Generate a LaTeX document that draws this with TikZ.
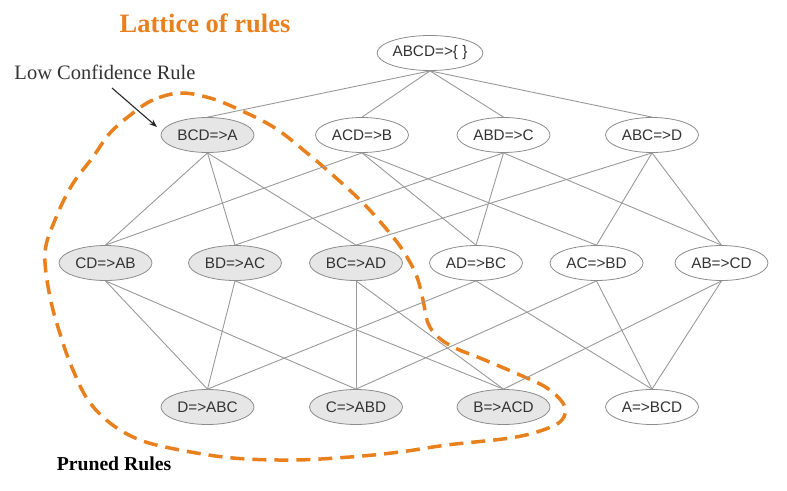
\documentclass[tikz,border=0pt]{standalone}
\usepackage{fontspec}
\setmainfont{Liberation Serif}
\newfontfamily\nodefont{Liberation Sans}
\usetikzlibrary{shapes.geometric,arrows.meta}
\definecolor{orangeline}{HTML}{E8801E}
\definecolor{edgegray}{HTML}{999999}
\definecolor{bordergray}{HTML}{8C8C8C}
\definecolor{fillgray}{HTML}{E6E6E6}
\definecolor{txt}{HTML}{333333}
\tikzset{
  rule/.style={ellipse, draw=bordergray, line width=0.8pt, fill=white, inner sep=0pt,
    minimum width=93pt, minimum height=35pt, text=txt,
    font=\nodefont\fontsize{15.3}{15.3}\selectfont},
  pruned/.style={rule, fill=fillgray},
  edge/.style={draw=edgegray, line width=0.9pt},
  prunecurve/.style={draw=orangeline, line width=3.5pt, dash pattern=on 14pt off 8pt},
}
\begin{document}
\begin{tikzpicture}[x=1pt,y=-1pt]
\useasboundingbox (0,0) rectangle (787,490);
% pruned region
\draw[prunecurve] plot[smooth cycle, tension=0.6] coordinates {
(180,93) (153,100) (133,113) (110,133) (93,157) (72,185) (55,220) (45,253)
(50,297) (62,340) (73,370) (88,400) (110,423) (140,440) (180,450) (233,458)
(293,460) (350,457) (400,452) (447,445) (510,438) (543,430) (562,420) (564,405)
(547,388) (520,375) (480,358) (455,348) (438,337) (428,323) (423,300) (417,277)
(407,257) (393,237) (365,205) (335,177) (307,153) (275,128) (240,110) (210,98)};
% nodes
\node[rule] (abcd) at (430,53) {ABCD=>\{ \}};
\node[pruned] (bcd) at (207.5,135) {BCD=>A};
\node[rule] (acd) at (362,135) {ACD=>B};
\node[rule] (abd) at (503.5,135) {ABD=>C};
\node[rule] (abc) at (652,135) {ABC=>D};
\node[pruned] (cd) at (105.5,263) {CD=>AB};
\node[pruned] (bd) at (235,263) {BD=>AC};
\node[pruned] (bc) at (356,263) {BC=>AD};
\node[rule] (ad) at (476,263) {AD=>BC};
\node[rule] (ac) at (596.5,263) {AC=>BD};
\node[rule] (ab) at (721.5,263) {AB=>CD};
\node[pruned] (d) at (207.5,407) {D=>ABC};
\node[pruned] (c) at (356,407) {C=>ABD};
\node[pruned] (b) at (503.5,407) {B=>ACD};
\node[rule] (a) at (652,407) {A=>BCD};
% edges
\foreach \t in {bcd,acd,abd,abc} \draw[edge] (abcd.south) -- (\t.north);
\foreach \s/\t in {bcd/cd,bcd/bd,bcd/bc,acd/cd,acd/ad,acd/ac,abd/bd,abd/ad,abd/ab,abc/bc,abc/ac,abc/ab,
  cd/d,cd/c,bd/d,bd/b,bc/c,bc/b,ad/d,ad/a,ac/c,ac/a,ab/b,ab/a}
  \draw[edge] (\s.south) -- (\t.north);
% labels
\node[text=orangeline, font=\bfseries\fontsize{26.5}{26.5}\selectfont] (title) at (205,23) {Lattice of rules};
\node[text=txt, font=\fontsize{20.5}{20.5}\selectfont] (lcr) at (105,72) {Low Confidence Rule};
\node[text=black, font=\bfseries\fontsize{19.7}{19.7}\selectfont] (pr) at (114,464) {Pruned Rules};
\coordinate (arrs) at (112,88);
\coordinate (arre) at (157,127);
\draw[line width=1.1pt, -{Stealth[length=8pt,width=6pt]}, color=black!85] (arrs) -- (arre);
\end{tikzpicture}
\end{document}
